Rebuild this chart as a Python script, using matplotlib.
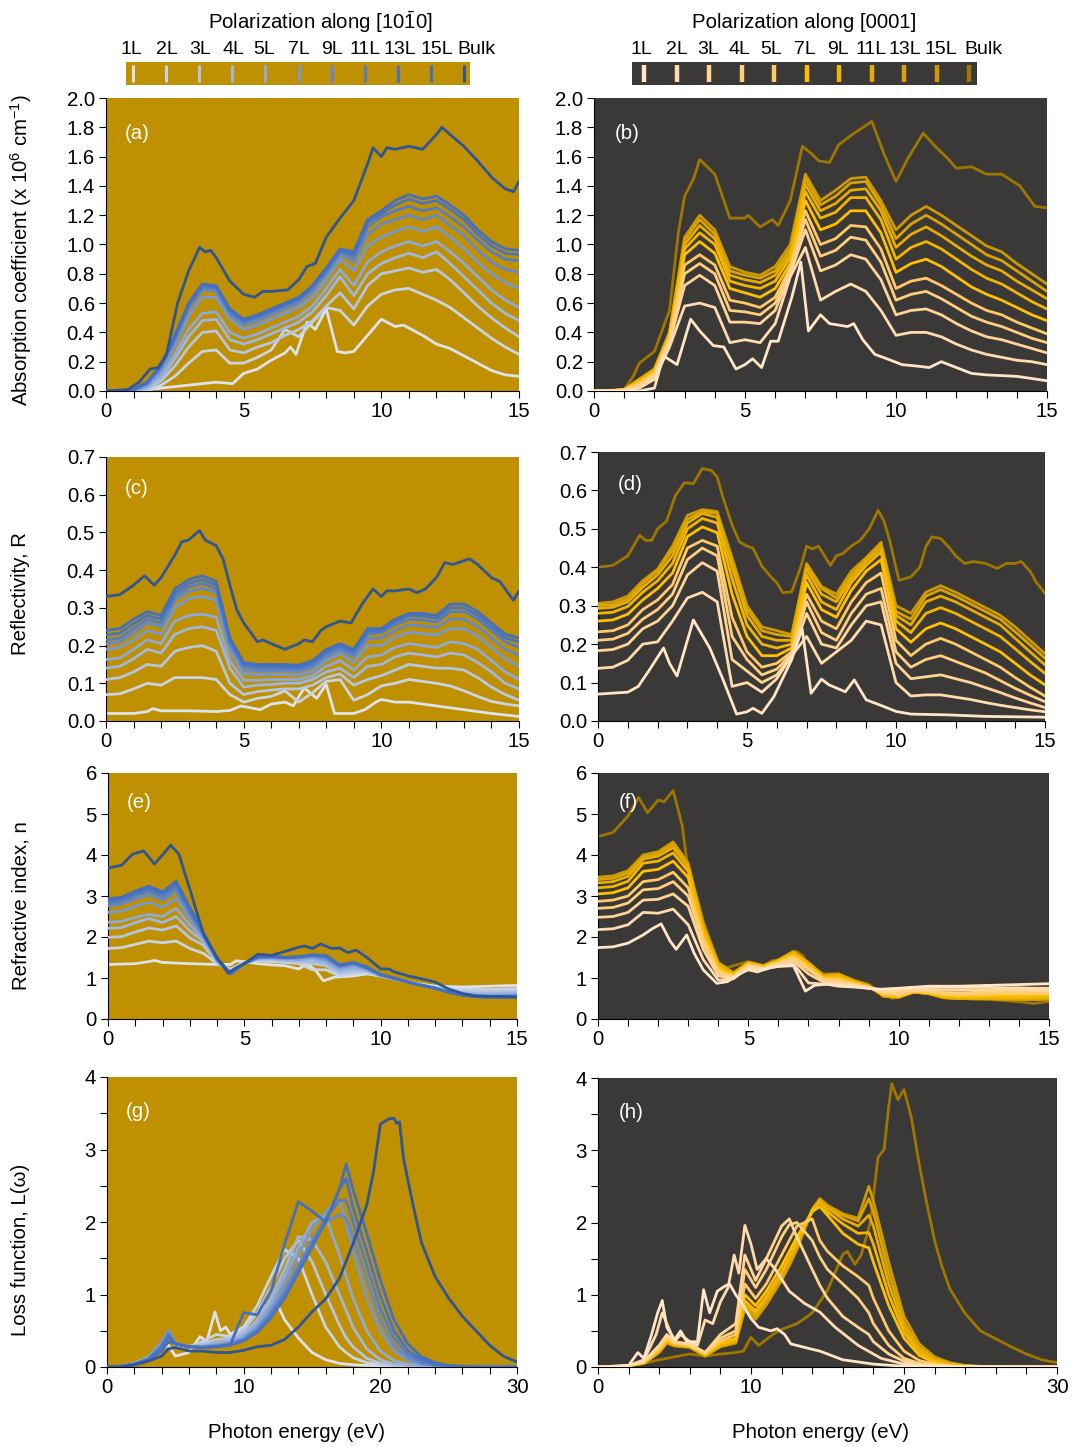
import matplotlib
matplotlib.use("Agg")
import matplotlib.pyplot as plt
from matplotlib.ticker import MultipleLocator, FormatStrFormatter

plt.rcParams['font.family'] = ['Liberation Sans', 'DejaVu Sans']
plt.rcParams['mathtext.fontset'] = 'custom'
plt.rcParams['mathtext.rm'] = 'Liberation Sans'
plt.rcParams['mathtext.it'] = 'Liberation Sans:italic'
plt.rcParams['mathtext.bf'] = 'Liberation Sans:bold'

# ---------------- categories / styling lists ----------------
LAYERS = ['1L', '2L', '3L', '4L', '5L', '7L', '9L', '11L', '13L', '15L', 'Bulk']
BLUES = ['#DDE3EE', '#C9D4E6', '#B4C6E4', '#A0B8E0', '#8EAADB', '#7699D3',
         '#6389CC', '#557DC6', '#4A74C1', '#4470BE', '#2F5597']
GOLDS = ['#FFE6C6', '#FFDCAE', '#FFD596', '#FFCF7E', '#FFC966', '#FFC000',
         '#F2B600', '#E6AC00', '#D9A300', '#CC9900', '#9E7700']
BG_LEFT = '#BF9000'
BG_RIGHT = '#3B3838'

# shared energy grid for panels (a)-(f)
EGRID = [0, 0.5, 1, 1.5, 2, 2.5, 3, 3.5, 4, 4.5, 5, 5.5, 6, 6.5, 7, 7.5, 8, 8.5, 9, 9.5,
         10, 10.5, 11, 11.5, 12, 12.5, 13, 13.5, 14, 14.5, 15]

# ---------------- (a) absorption, [10-10] ----------------
XA1 = [0, 1, 1.5, 2, 2.5, 3, 3.5, 4, 4.6, 5, 5.5, 6, 6.5, 6.7, 6.9, 7.3, 7.6, 8.0, 8.4, 8.7, 9.0,
       9.5, 10.0, 10.5, 10.8, 11.5, 12, 12.5, 13, 13.5, 14, 14.5, 15]
A1 = [0, 0, 0.01, 0.02, 0.03, 0.04, 0.05, 0.06, 0.05, 0.12, 0.15, 0.21, 0.26, 0.3, 0.25, 0.47, 0.42,
      0.56, 0.27, 0.26, 0.27, 0.38, 0.49, 0.44, 0.45, 0.38, 0.32, 0.29, 0.24, 0.19, 0.14, 0.11, 0.1]
A2 = [0, 0, 0, 0, 0.04, 0.1, 0.19, 0.27, 0.28, 0.19, 0.19, 0.23, 0.28, 0.42, 0.37, 0.47, 0.57, 0.55,
      0.45, 0.58, 0.66, 0.69, 0.7, 0.66, 0.62, 0.57, 0.5, 0.43, 0.36, 0.3, 0.25]
A3 = [0, 0, 0, 0.01, 0.07, 0.17, 0.3, 0.4, 0.41, 0.28, 0.26, 0.3, 0.33, 0.38, 0.42, 0.48, 0.58, 0.67,
      0.56, 0.72, 0.8, 0.82, 0.84, 0.81, 0.83, 0.76, 0.67, 0.58, 0.5, 0.43, 0.37]
A4 = [0, 0, 0, 0.02, 0.09, 0.22, 0.37, 0.48, 0.49, 0.35, 0.32, 0.35, 0.39, 0.43, 0.47, 0.54, 0.65, 0.78,
      0.65, 0.8, 0.87, 0.91, 0.94, 0.91, 0.95, 0.87, 0.78, 0.69, 0.6, 0.53, 0.48]
A5 = [0, 0, 0, 0.03, 0.11, 0.25, 0.42, 0.53, 0.54, 0.4, 0.36, 0.39, 0.43, 0.47, 0.51, 0.58, 0.7, 0.83,
      0.72, 0.88, 0.95, 0.99, 1.02, 0.99, 1.02, 0.95, 0.87, 0.78, 0.69, 0.62, 0.57]
A7 = [0, 0, 0, 0.04, 0.14, 0.31, 0.51, 0.64, 0.64, 0.49, 0.42, 0.45, 0.49, 0.53, 0.57, 0.64, 0.76, 0.9,
      0.82, 0.99, 1.05, 1.09, 1.12, 1.09, 1.12, 1.05, 0.97, 0.88, 0.8, 0.74, 0.7]
A9 = [0, 0, 0.01, 0.05, 0.16, 0.34, 0.56, 0.69, 0.68, 0.52, 0.45, 0.48, 0.52, 0.56, 0.6, 0.68, 0.8, 0.93,
      0.88, 1.07, 1.14, 1.17, 1.2, 1.17, 1.2, 1.13, 1.06, 0.96, 0.88, 0.83, 0.81]
A11 = [0, 0, 0.01, 0.06, 0.17, 0.36, 0.58, 0.71, 0.7, 0.54, 0.47, 0.5, 0.54, 0.58, 0.62, 0.7, 0.82, 0.95,
       0.91, 1.12, 1.19, 1.23, 1.26, 1.23, 1.25, 1.19, 1.12, 1.03, 0.95, 0.9, 0.89]
A13 = [0, 0, 0.01, 0.06, 0.17, 0.37, 0.59, 0.72, 0.71, 0.55, 0.48, 0.51, 0.55, 0.59, 0.63, 0.71, 0.83, 0.96,
       0.93, 1.15, 1.21, 1.27, 1.31, 1.28, 1.3, 1.24, 1.17, 1.07, 0.99, 0.94, 0.93]
A15 = [0, 0, 0.01, 0.06, 0.18, 0.38, 0.6, 0.73, 0.72, 0.56, 0.49, 0.52, 0.56, 0.6, 0.64, 0.72, 0.84, 0.97,
       0.95, 1.17, 1.23, 1.3, 1.34, 1.31, 1.33, 1.27, 1.2, 1.1, 1.02, 0.97, 0.96]
XAB = [0, 0.8, 1.2, 1.6, 1.9, 2.2, 2.6, 3.0, 3.4, 3.6, 3.8, 4.0, 4.5, 5.0, 5.4, 5.7, 6.0, 6.6, 7.0, 7.3,
       7.6, 8.0, 8.5, 9.0, 9.5, 9.7, 10.0, 10.2, 10.5, 11.0, 11.5, 12.0, 12.2, 12.5, 13.0, 13.5, 14.0,
       14.5, 14.8, 15.0]
AB = [0, 0.01, 0.06, 0.15, 0.16, 0.25, 0.6, 0.82, 0.98, 0.95, 0.96, 0.91, 0.75, 0.66, 0.64, 0.68, 0.68,
      0.69, 0.76, 0.85, 0.87, 1.05, 1.18, 1.3, 1.55, 1.66, 1.6, 1.66, 1.65, 1.67, 1.65, 1.75, 1.8, 1.75,
      1.67, 1.57, 1.46, 1.38, 1.36, 1.43]

# ---------------- (b) absorption, [0001] ----------------
XB1 = [0, 1.5, 2.0, 2.3, 2.75, 3.2, 3.5, 3.95, 4.3, 4.7, 5.0, 5.25, 5.55, 5.85, 6.1, 6.55, 6.85, 7.1,
       7.5, 7.8, 8.4, 8.6, 8.9, 9.3, 9.7, 10.2, 10.7, 11.1, 11.5, 12, 12.5, 13, 14, 15]
B1 = [0, 0, 0.02, 0.24, 0.18, 0.49, 0.41, 0.31, 0.3, 0.15, 0.18, 0.22, 0.16, 0.34, 0.34, 0.64, 0.88,
      0.41, 0.52, 0.46, 0.44, 0.46, 0.35, 0.25, 0.22, 0.18, 0.17, 0.16, 0.2, 0.16, 0.12, 0.11, 0.1, 0.07]
B2 = [0, 0, 0, 0.02, 0.08, 0.3, 0.58, 0.6, 0.57, 0.33, 0.35, 0.33, 0.46, 0.78, 0.98, 0.62, 0.68, 0.73,
      0.68, 0.55, 0.38, 0.4, 0.4, 0.37, 0.32, 0.28, 0.25, 0.23, 0.21, 0.2, 0.18]
B3 = [0, 0, 0, 0.03, 0.1, 0.33, 0.72, 0.79, 0.72, 0.47, 0.47, 0.46, 0.55, 0.8, 1.1, 0.82, 0.86, 0.93,
      0.9, 0.76, 0.52, 0.55, 0.56, 0.52, 0.46, 0.41, 0.37, 0.35, 0.32, 0.29, 0.26]
B4 = [0, 0, 0, 0.04, 0.11, 0.35, 0.8, 0.87, 0.8, 0.55, 0.54, 0.52, 0.6, 0.82, 1.17, 0.92, 0.96, 1.05,
      1.03, 0.88, 0.62, 0.66, 0.68, 0.63, 0.57, 0.51, 0.47, 0.44, 0.4, 0.36, 0.33]
B5 = [0, 0, 0.01, 0.05, 0.12, 0.36, 0.86, 0.93, 0.86, 0.62, 0.6, 0.57, 0.64, 0.84, 1.23, 1.0, 1.04, 1.13,
      1.12, 0.97, 0.7, 0.75, 0.77, 0.72, 0.66, 0.6, 0.55, 0.52, 0.47, 0.43, 0.39]
B7 = [0, 0, 0.01, 0.06, 0.13, 0.37, 0.93, 1.02, 0.94, 0.7, 0.67, 0.64, 0.7, 0.87, 1.3, 1.1, 1.14, 1.23,
      1.23, 1.08, 0.81, 0.87, 0.9, 0.85, 0.78, 0.71, 0.66, 0.62, 0.57, 0.52, 0.48]
B9 = [0, 0, 0.01, 0.07, 0.14, 0.38, 0.97, 1.08, 1.0, 0.75, 0.72, 0.7, 0.75, 0.91, 1.36, 1.18, 1.22, 1.32,
      1.32, 1.17, 0.9, 0.98, 1.02, 0.97, 0.9, 0.83, 0.77, 0.73, 0.67, 0.61, 0.56]
B11 = [0, 0, 0.01, 0.07, 0.14, 0.39, 1.0, 1.13, 1.04, 0.79, 0.76, 0.74, 0.79, 0.94, 1.41, 1.23, 1.28, 1.37,
       1.38, 1.23, 0.98, 1.07, 1.12, 1.06, 0.99, 0.92, 0.86, 0.82, 0.75, 0.69, 0.63]
B13 = [0, 0, 0.01, 0.08, 0.15, 0.4, 1.03, 1.17, 1.07, 0.82, 0.79, 0.77, 0.82, 0.97, 1.45, 1.27, 1.33, 1.42,
       1.43, 1.27, 1.04, 1.14, 1.2, 1.14, 1.07, 1.0, 0.93, 0.89, 0.82, 0.75, 0.68]
B15 = [0, 0, 0.01, 0.08, 0.15, 0.4, 1.05, 1.2, 1.1, 0.85, 0.81, 0.79, 0.85, 1.0, 1.48, 1.3, 1.37, 1.45,
       1.46, 1.3, 1.1, 1.2, 1.26, 1.2, 1.13, 1.06, 0.99, 0.95, 0.87, 0.8, 0.73]
XBB = [0, 1, 1.3, 1.5, 2, 2.5, 2.8, 3, 3.3, 3.5, 4, 4.5, 5, 5.1, 5.5, 5.9, 6.1, 6.5, 6.9, 7.2, 7.45, 7.8,
       8.1, 8.55, 9.2, 9.6, 10, 10.4, 10.9, 11.3, 11.7, 12, 12.5, 13, 13.5, 14.1, 14.6, 15]
BB = [0, 0.01, 0.1, 0.19, 0.27, 0.55, 1.09, 1.33, 1.45, 1.58, 1.48, 1.18, 1.18, 1.2, 1.12, 1.17, 1.13,
      1.3, 1.67, 1.62, 1.57, 1.56, 1.68, 1.75, 1.84, 1.62, 1.43, 1.59, 1.76, 1.67, 1.59, 1.52, 1.53, 1.48,
      1.48, 1.4, 1.26, 1.25]

# ---------------- (c) reflectivity, [10-10] ----------------
XC1 = [0, 1, 1.5, 1.7, 2, 3, 4, 4.5, 4.9, 5.6, 6, 6.5, 6.8, 7.2, 7.65, 8.0, 8.3, 9.0, 9.4, 9.8, 10.0,
       10.5, 11, 11.5, 12, 12.5, 13, 14, 15]
C1 = [0.02, 0.02, 0.025, 0.033, 0.027, 0.027, 0.025, 0.028, 0.04, 0.03, 0.045, 0.05, 0.04, 0.088, 0.06,
      0.097, 0.02, 0.02, 0.03, 0.05, 0.057, 0.05, 0.05, 0.045, 0.04, 0.035, 0.03, 0.02, 0.012]
C2 = [0.07, 0.072, 0.085, 0.1, 0.095, 0.115, 0.115, 0.115, 0.11, 0.07, 0.05, 0.06, 0.065, 0.08, 0.05, 0.075,
      0.105, 0.11, 0.055, 0.07, 0.093, 0.1, 0.11, 0.105, 0.1, 0.093, 0.08, 0.065, 0.052, 0.045, 0.04]
C3 = [0.11, 0.115, 0.13, 0.15, 0.145, 0.185, 0.195, 0.2, 0.185, 0.1, 0.07, 0.078, 0.082, 0.085, 0.085,
      0.095, 0.115, 0.125, 0.095, 0.11, 0.12, 0.135, 0.15, 0.145, 0.14, 0.14, 0.135, 0.115, 0.09, 0.07, 0.055]
C4 = [0.14, 0.145, 0.165, 0.19, 0.18, 0.23, 0.245, 0.25, 0.24, 0.14, 0.09, 0.095, 0.097, 0.1, 0.1, 0.11,
      0.13, 0.14, 0.115, 0.145, 0.15, 0.17, 0.18, 0.175, 0.17, 0.18, 0.175, 0.155, 0.13, 0.1, 0.085]
C5 = [0.163, 0.167, 0.19, 0.215, 0.205, 0.265, 0.28, 0.283, 0.275, 0.16, 0.108, 0.108, 0.11, 0.11, 0.11,
      0.12, 0.145, 0.16, 0.135, 0.17, 0.175, 0.195, 0.205, 0.2, 0.195, 0.21, 0.205, 0.19, 0.16, 0.13, 0.11]
C7 = [0.19, 0.195, 0.215, 0.24, 0.23, 0.3, 0.325, 0.33, 0.32, 0.19, 0.125, 0.123, 0.123, 0.123, 0.122,
      0.132, 0.16, 0.178, 0.155, 0.2, 0.2, 0.222, 0.235, 0.232, 0.228, 0.245, 0.245, 0.225, 0.195, 0.165, 0.145]
C9 = [0.205, 0.21, 0.233, 0.26, 0.25, 0.32, 0.343, 0.352, 0.34, 0.2, 0.135, 0.133, 0.133, 0.133, 0.132,
      0.143, 0.17, 0.188, 0.17, 0.218, 0.22, 0.24, 0.255, 0.252, 0.248, 0.27, 0.27, 0.25, 0.22, 0.19, 0.175]
C11 = [0.215, 0.22, 0.245, 0.27, 0.26, 0.33, 0.355, 0.365, 0.35, 0.21, 0.145, 0.14, 0.14, 0.14, 0.138,
       0.15, 0.178, 0.195, 0.178, 0.23, 0.235, 0.255, 0.27, 0.268, 0.262, 0.29, 0.29, 0.27, 0.24, 0.21, 0.195]
C13 = [0.228, 0.233, 0.258, 0.28, 0.27, 0.34, 0.365, 0.375, 0.36, 0.215, 0.15, 0.145, 0.145, 0.145, 0.143,
       0.155, 0.185, 0.2, 0.185, 0.238, 0.24, 0.263, 0.28, 0.278, 0.272, 0.3, 0.3, 0.28, 0.25, 0.22, 0.21]
C15 = [0.24, 0.245, 0.27, 0.29, 0.28, 0.35, 0.375, 0.385, 0.37, 0.22, 0.155, 0.15, 0.15, 0.15, 0.148,
       0.16, 0.19, 0.205, 0.19, 0.245, 0.245, 0.27, 0.285, 0.285, 0.28, 0.31, 0.31, 0.29, 0.26, 0.23, 0.22]
XCB = [0, 0.5, 1, 1.4, 1.75, 2, 2.5, 2.75, 3, 3.4, 3.6, 4, 4.25, 4.5, 4.75, 5, 5.5, 5.7, 6, 6.5, 7, 7.2,
       7.5, 7.8, 8, 8.5, 8.9, 9.3, 9.7, 10, 10.2, 10.5, 11, 11.3, 11.6, 12, 12.3, 12.6, 13, 13.2, 13.5, 14,
       14.3, 14.6, 14.8, 15]
CB = [0.33, 0.335, 0.36, 0.385, 0.36, 0.38, 0.44, 0.475, 0.48, 0.505, 0.48, 0.465, 0.43, 0.36, 0.295,
      0.26, 0.21, 0.215, 0.205, 0.19, 0.205, 0.215, 0.21, 0.24, 0.25, 0.265, 0.26, 0.31, 0.35, 0.33, 0.345,
      0.345, 0.35, 0.34, 0.35, 0.38, 0.42, 0.415, 0.425, 0.43, 0.415, 0.38, 0.37, 0.34, 0.32, 0.345]

# ---------------- (d) reflectivity, [0001] ----------------
XD1 = [0, 1, 1.35, 1.7, 2.2, 2.4, 2.65, 3.2, 3.75, 4.2, 4.65, 5, 5.2, 5.5, 5.9, 6.5, 6.85, 7.15, 7.5,
       7.75, 8.3, 8.6, 9, 9.45, 10, 10.5, 11.7, 13, 15]
D1 = [0.07, 0.075, 0.09, 0.13, 0.19, 0.15, 0.117, 0.263, 0.19, 0.107, 0.018, 0.024, 0.033, 0.02, 0.063,
      0.16, 0.24, 0.072, 0.109, 0.094, 0.076, 0.107, 0.055, 0.042, 0.025, 0.018, 0.016, 0.012, 0.01]
D2 = [0.137, 0.14, 0.158, 0.2, 0.206, 0.26, 0.32, 0.335, 0.31, 0.09, 0.1, 0.075, 0.11, 0.17, 0.22, 0.15,
      0.18, 0.21, 0.26, 0.25, 0.1, 0.065, 0.068, 0.068, 0.062, 0.056, 0.048, 0.041, 0.035, 0.029, 0.024]
D3 = [0.183, 0.186, 0.2, 0.24, 0.26, 0.3, 0.38, 0.412, 0.39, 0.16, 0.13, 0.1, 0.12, 0.17, 0.28, 0.2, 0.19,
      0.25, 0.3, 0.31, 0.15, 0.11, 0.115, 0.12, 0.11, 0.1, 0.087, 0.074, 0.06, 0.047, 0.035]
D4 = [0.21, 0.213, 0.228, 0.265, 0.29, 0.33, 0.42, 0.45, 0.43, 0.22, 0.16, 0.12, 0.135, 0.175, 0.31, 0.23,
      0.21, 0.28, 0.33, 0.345, 0.18, 0.14, 0.16, 0.17, 0.155, 0.14, 0.125, 0.105, 0.085, 0.067, 0.05]
D5 = [0.232, 0.235, 0.25, 0.29, 0.315, 0.355, 0.45, 0.47, 0.455, 0.27, 0.18, 0.14, 0.15, 0.18, 0.33, 0.26,
      0.24, 0.31, 0.36, 0.385, 0.21, 0.17, 0.2, 0.215, 0.2, 0.18, 0.16, 0.14, 0.113, 0.088, 0.065]
D7 = [0.26, 0.263, 0.278, 0.315, 0.345, 0.385, 0.48, 0.505, 0.49, 0.33, 0.22, 0.17, 0.17, 0.19, 0.36, 0.29,
      0.27, 0.34, 0.39, 0.42, 0.24, 0.205, 0.24, 0.255, 0.24, 0.22, 0.2, 0.18, 0.15, 0.12, 0.094]
D9 = [0.28, 0.283, 0.298, 0.335, 0.365, 0.41, 0.5, 0.527, 0.515, 0.37, 0.25, 0.2, 0.19, 0.2, 0.38, 0.31,
      0.29, 0.36, 0.405, 0.44, 0.26, 0.23, 0.28, 0.295, 0.28, 0.26, 0.24, 0.22, 0.188, 0.155, 0.124]
D11 = [0.293, 0.296, 0.31, 0.348, 0.38, 0.43, 0.515, 0.54, 0.53, 0.4, 0.275, 0.22, 0.21, 0.21, 0.395, 0.33,
       0.31, 0.37, 0.415, 0.45, 0.275, 0.25, 0.31, 0.325, 0.31, 0.29, 0.27, 0.25, 0.215, 0.18, 0.146]
D13 = [0.3, 0.303, 0.318, 0.358, 0.39, 0.445, 0.525, 0.545, 0.54, 0.415, 0.29, 0.235, 0.225, 0.22, 0.405,
       0.345, 0.32, 0.38, 0.42, 0.46, 0.285, 0.265, 0.325, 0.342, 0.325, 0.305, 0.285, 0.265, 0.232, 0.198, 0.163]
D15 = [0.306, 0.31, 0.325, 0.365, 0.395, 0.455, 0.535, 0.55, 0.545, 0.425, 0.3, 0.245, 0.235, 0.225, 0.41,
       0.35, 0.33, 0.39, 0.425, 0.465, 0.3, 0.28, 0.335, 0.352, 0.335, 0.315, 0.295, 0.275, 0.245, 0.21, 0.175]
XDB = [0, 0.5, 1, 1.4, 1.6, 1.8, 2, 2.3, 2.6, 2.9, 3.2, 3.5, 3.8, 4, 4.2, 4.5, 4.75, 5, 5.2, 5.5, 5.8, 6,
       6.2, 6.5, 6.8, 7, 7.2, 7.4, 7.6, 7.8, 8, 8.2, 8.5, 8.8, 9.1, 9.4, 9.6, 9.8, 10.1, 10.5, 10.8, 11,
       11.2, 11.5, 11.8, 12, 12.3, 12.6, 13, 13.4, 13.7, 14, 14.2, 14.5, 14.7, 15]
DB = [0.4, 0.405, 0.43, 0.483, 0.47, 0.47, 0.5, 0.52, 0.587, 0.62, 0.618, 0.657, 0.652, 0.635, 0.58, 0.51,
      0.466, 0.455, 0.45, 0.403, 0.375, 0.36, 0.334, 0.336, 0.4, 0.455, 0.448, 0.455, 0.43, 0.405, 0.43,
      0.435, 0.455, 0.47, 0.5, 0.548, 0.52, 0.466, 0.366, 0.375, 0.4, 0.453, 0.479, 0.475, 0.45, 0.43, 0.41,
      0.415, 0.41, 0.397, 0.41, 0.41, 0.415, 0.39, 0.362, 0.332]

# ---------------- (e) refractive index, [10-10] ----------------
XE1 = [0, 1, 1.5, 1.7, 2, 3, 4, 4.5, 4.7, 5, 5.5, 6, 6.5, 6.8, 7.0, 7.3, 7.6, 7.9, 8.3, 9, 9.5, 10, 11,
       12, 13, 14, 15]
E1 = [1.33, 1.35, 1.4, 1.43, 1.38, 1.35, 1.33, 1.33, 1.42, 1.4, 1.35, 1.32, 1.3, 1.25, 1.22, 1.35, 1.2,
      0.93, 1.02, 1.05, 1.1, 1.05, 0.9, 0.8, 0.78, 0.8, 0.82]
E2 = [1.72, 1.74, 1.82, 1.9, 1.86, 1.9, 1.72, 1.6, 1.35, 1.22, 1.38, 1.42, 1.4, 1.38, 1.35, 1.2, 1.2, 1.05,
      1.1, 1.12, 1.05, 0.98, 0.9, 0.84, 0.78, 0.74, 0.72, 0.72, 0.72, 0.73, 0.74]
E3 = [1.99, 2.01, 2.12, 2.22, 2.17, 2.27, 1.98, 1.8, 1.38, 1.15, 1.37, 1.45, 1.44, 1.42, 1.38, 1.35, 1.3,
      1.1, 1.15, 1.15, 1.05, 0.98, 0.9, 0.83, 0.77, 0.71, 0.67, 0.66, 0.66, 0.67, 0.68]
E4 = [2.21, 2.23, 2.35, 2.45, 2.35, 2.5, 2.15, 1.9, 1.4, 1.12, 1.36, 1.47, 1.46, 1.44, 1.42, 1.42, 1.35,
      1.15, 1.22, 1.18, 1.06, 0.98, 0.9, 0.83, 0.76, 0.69, 0.64, 0.62, 0.62, 0.63, 0.64]
E5 = [2.36, 2.38, 2.48, 2.55, 2.5, 2.7, 2.3, 1.95, 1.42, 1.1, 1.35, 1.48, 1.48, 1.46, 1.45, 1.48, 1.4, 1.2,
      1.28, 1.2, 1.06, 0.98, 0.9, 0.82, 0.75, 0.68, 0.62, 0.59, 0.59, 0.6, 0.61]
E7 = [2.6, 2.63, 2.75, 2.85, 2.72, 2.95, 2.45, 2.0, 1.44, 1.1, 1.35, 1.5, 1.5, 1.48, 1.48, 1.52, 1.45,
      1.25, 1.32, 1.22, 1.07, 0.98, 0.9, 0.82, 0.75, 0.67, 0.6, 0.57, 0.56, 0.57, 0.58]
E9 = [2.76, 2.8, 2.93, 3.03, 2.9, 3.12, 2.55, 2.05, 1.45, 1.1, 1.35, 1.5, 1.51, 1.49, 1.5, 1.54, 1.5, 1.28,
      1.35, 1.23, 1.07, 0.99, 0.9, 0.82, 0.75, 0.66, 0.59, 0.56, 0.55, 0.55, 0.56]
E11 = [2.83, 2.87, 3.01, 3.12, 2.98, 3.22, 2.62, 2.07, 1.46, 1.1, 1.35, 1.51, 1.52, 1.5, 1.51, 1.55, 1.52,
       1.3, 1.37, 1.25, 1.08, 0.99, 0.9, 0.82, 0.75, 0.65, 0.58, 0.55, 0.54, 0.54, 0.55]
E13 = [2.89, 2.93, 3.07, 3.18, 3.05, 3.3, 2.68, 2.09, 1.47, 1.1, 1.35, 1.52, 1.53, 1.5, 1.52, 1.56, 1.54,
       1.31, 1.38, 1.26, 1.08, 1.0, 0.9, 0.82, 0.75, 0.65, 0.58, 0.55, 0.53, 0.53, 0.54]
E15 = [2.93, 2.97, 3.12, 3.24, 3.1, 3.36, 2.72, 2.11, 1.48, 1.12, 1.36, 1.52, 1.53, 1.5, 1.52, 1.57, 1.55,
       1.32, 1.38, 1.27, 1.08, 1.0, 0.9, 0.82, 0.75, 0.65, 0.58, 0.54, 0.53, 0.53, 0.54]
XEB = [0, 0.5, 0.9, 1.3, 1.5, 1.7, 2.0, 2.3, 2.6, 3.0, 3.5, 4.0, 4.4, 4.7, 5.0, 5.5, 6.0, 6.5, 7.0, 7.2,
       7.5, 7.8, 8.2, 8.5, 8.8, 9.1, 9.5, 10.0, 10.3, 10.5, 11.0, 11.5, 12.0, 12.5, 13.0, 13.5, 14.0, 14.5,
       15.0]
EB = [3.68, 3.75, 4.02, 4.1, 3.95, 3.78, 4.0, 4.24, 4.02, 3.17, 2.07, 1.5, 1.12, 1.25, 1.35, 1.58, 1.55,
      1.65, 1.75, 1.78, 1.72, 1.83, 1.72, 1.73, 1.62, 1.68, 1.5, 1.22, 1.22, 1.15, 1.05, 0.98, 0.9, 0.73,
      0.62, 0.56, 0.55, 0.55, 0.53]

# ---------------- (f) refractive index, [0001] ----------------
XF1 = [0, 0.5, 1, 1.5, 1.8, 2.1, 2.4, 2.6, 2.95, 3.2, 3.5, 3.95, 4.3, 4.7, 5, 5.3, 5.7, 6, 6.5, 6.9, 7.2,
       7.6, 8, 8.5, 9, 9.3, 10, 11, 12, 13, 14, 15]
F1 = [1.74, 1.76, 1.85, 2.05, 2.2, 2.32, 1.9, 1.7, 2.05, 1.6, 1.2, 0.87, 0.91, 1.1, 1.2, 1.15, 1.25, 1.28,
      1.3, 0.68, 0.82, 0.85, 0.8, 0.78, 0.75, 0.72, 0.75, 0.8, 0.8, 0.82, 0.84, 0.86]
F2 = [2.18, 2.2, 2.3, 2.6, 2.58, 2.68, 2.3, 1.45, 0.95, 0.98, 1.25, 1.2, 1.3, 1.35, 0.88, 0.85, 0.85, 0.8,
      0.75, 0.72, 0.74, 0.76, 0.77, 0.77, 0.77, 0.77, 0.77, 0.76, 0.76, 0.75, 0.75]
F3 = [2.48, 2.5, 2.6, 2.9, 2.92, 3.05, 2.75, 1.7, 1.05, 1.0, 1.28, 1.22, 1.33, 1.42, 1.1, 0.9, 0.88, 0.82,
      0.76, 0.68, 0.68, 0.72, 0.72, 0.7, 0.7, 0.71, 0.71, 0.71, 0.71, 0.7, 0.7]
F4 = [2.7, 2.72, 2.83, 3.15, 3.18, 3.35, 3.0, 1.85, 1.12, 1.02, 1.3, 1.24, 1.36, 1.48, 1.2, 0.95, 0.92, 0.84,
      0.77, 0.65, 0.62, 0.7, 0.68, 0.64, 0.63, 0.65, 0.66, 0.66, 0.66, 0.66, 0.65]
F5 = [2.87, 2.9, 3.0, 3.35, 3.4, 3.58, 3.2, 1.95, 1.18, 1.04, 1.32, 1.25, 1.38, 1.52, 1.25, 0.98, 0.96, 0.86,
      0.78, 0.62, 0.58, 0.68, 0.66, 0.6, 0.59, 0.6, 0.61, 0.62, 0.62, 0.62, 0.62]
F7 = [3.05, 3.08, 3.2, 3.6, 3.65, 3.85, 3.45, 2.05, 1.25, 1.06, 1.34, 1.27, 1.4, 1.56, 1.3, 1.0, 1.0, 0.88,
      0.79, 0.6, 0.56, 0.67, 0.64, 0.57, 0.56, 0.56, 0.57, 0.58, 0.58, 0.58, 0.58]
F9 = [3.2, 3.23, 3.36, 3.8, 3.85, 4.05, 3.6, 2.15, 1.3, 1.08, 1.36, 1.28, 1.42, 1.6, 1.33, 1.02, 1.04, 0.9,
      0.8, 0.58, 0.55, 0.66, 0.63, 0.55, 0.53, 0.53, 0.53, 0.54, 0.54, 0.54, 0.55]
F11 = [3.32, 3.35, 3.48, 3.9, 3.97, 4.18, 3.7, 2.2, 1.33, 1.1, 1.37, 1.29, 1.43, 1.62, 1.35, 1.04, 1.07,
       0.92, 0.8, 0.57, 0.54, 0.66, 0.62, 0.53, 0.51, 0.51, 0.51, 0.51, 0.51, 0.51, 0.52]
F13 = [3.4, 3.43, 3.56, 3.95, 4.03, 4.26, 3.75, 2.25, 1.36, 1.12, 1.38, 1.3, 1.44, 1.64, 1.37, 1.05, 1.09,
       0.93, 0.81, 0.56, 0.53, 0.66, 0.62, 0.52, 0.5, 0.5, 0.5, 0.49, 0.49, 0.49, 0.5]
F15 = [3.46, 3.49, 3.62, 4.0, 4.08, 4.32, 3.8, 2.3, 1.38, 1.13, 1.38, 1.3, 1.44, 1.65, 1.38, 1.06, 1.1, 0.94,
       0.82, 0.55, 0.53, 0.66, 0.62, 0.52, 0.5, 0.49, 0.49, 0.48, 0.47, 0.47, 0.48]
XFB = [0, 0.5, 1, 1.35, 1.65, 2, 2.2, 2.5, 2.8, 3, 3.3, 3.5, 4, 4.3, 4.5, 5, 5.5, 5.8, 6.2, 6.6, 6.8, 7,
       7.5, 8, 8.5, 9, 9.5, 9.8, 10, 10.5, 11, 11.5, 12, 13, 14, 14.5, 15]
FB = [4.45, 4.55, 4.95, 5.4, 5.03, 5.34, 5.3, 5.57, 4.72, 3.6, 2.95, 2.4, 1.35, 1.25, 1.3, 1.4, 1.3, 1.42,
      1.45, 1.65, 1.55, 1.3, 1.1, 1.1, 0.95, 0.85, 0.6, 0.5, 0.55, 0.65, 0.62, 0.52, 0.5, 0.48, 0.42, 0.38,
      0.43]

# ---------------- (g) loss function, [10-10] ----------------
EG = [0, 1, 2, 3, 4, 4.5, 5, 6, 7, 8, 9, 10, 11, 12, 13, 14, 15, 16, 17, 17.5, 18, 19, 20, 21, 22, 23, 24,
      25, 26, 27, 28, 29, 30]
XG1 = [0, 1, 2, 3, 4, 4.5, 5, 6, 6.8, 7.3, 7.9, 8.3, 8.7, 9, 10, 11, 12, 12.5, 13, 14, 15, 16, 17, 18, 20,
       22, 25, 30]
G1 = [0, 0.01, 0.05, 0.12, 0.25, 0.3, 0.15, 0.2, 0.42, 0.35, 0.76, 0.5, 0.55, 0.45, 0.55, 0.75, 0.9, 0.85,
      0.65, 0.4, 0.2, 0.1, 0.05, 0.03, 0.01, 0.005, 0, 0]
G2 = [0, 0.01, 0.05, 0.13, 0.3, 0.45, 0.3, 0.28, 0.35, 0.45, 0.42, 0.55, 0.85, 1.25, 1.62, 1.5, 1.0, 0.55,
      0.28, 0.2, 0.13, 0.06, 0.03, 0.01, 0, 0, 0, 0, 0, 0, 0, 0, 0]
G3 = [0, 0.01, 0.05, 0.13, 0.32, 0.48, 0.32, 0.28, 0.32, 0.38, 0.4, 0.5, 0.75, 1.1, 1.5, 1.75, 1.45, 1.0,
      0.58, 0.4, 0.28, 0.12, 0.05, 0.02, 0.01, 0, 0, 0, 0, 0, 0, 0, 0]
G4 = [0, 0.01, 0.05, 0.13, 0.33, 0.5, 0.32, 0.28, 0.3, 0.33, 0.37, 0.45, 0.65, 0.95, 1.35, 1.8, 1.75, 1.45,
      1.0, 0.78, 0.55, 0.25, 0.1, 0.04, 0.02, 0.01, 0, 0, 0, 0, 0, 0, 0]
G5 = [0, 0.01, 0.05, 0.13, 0.34, 0.5, 0.32, 0.28, 0.29, 0.31, 0.35, 0.42, 0.6, 0.88, 1.25, 1.65, 2.0, 2.08,
      1.55, 1.25, 0.95, 0.5, 0.22, 0.09, 0.04, 0.015, 0.005, 0, 0, 0, 0, 0, 0]
G7 = [0, 0.01, 0.05, 0.12, 0.33, 0.5, 0.32, 0.28, 0.28, 0.3, 0.33, 0.4, 0.55, 0.8, 1.15, 1.55, 1.9, 2.15,
      2.3, 2.0, 1.6, 0.95, 0.5, 0.22, 0.1, 0.04, 0.02, 0.01, 0, 0, 0, 0, 0]
G9 = [0, 0.01, 0.04, 0.11, 0.3, 0.48, 0.32, 0.28, 0.27, 0.29, 0.32, 0.38, 0.52, 0.75, 1.05, 1.4, 1.75, 2.0,
      2.1, 2.05, 1.8, 1.2, 0.65, 0.3, 0.13, 0.05, 0.02, 0.01, 0, 0, 0, 0, 0]
G11 = [0, 0.01, 0.04, 0.1, 0.28, 0.45, 0.32, 0.28, 0.27, 0.28, 0.31, 0.37, 0.5, 0.72, 1.0, 1.35, 1.7, 2.05,
       2.3, 2.3, 2.0, 1.4, 0.8, 0.4, 0.18, 0.07, 0.03, 0.01, 0, 0, 0, 0, 0]
G13 = [0, 0.01, 0.04, 0.1, 0.26, 0.42, 0.32, 0.28, 0.27, 0.28, 0.3, 0.36, 0.48, 0.68, 0.95, 1.3, 1.65, 2.0,
       2.45, 2.6, 2.2, 1.6, 0.98, 0.5, 0.23, 0.1, 0.04, 0.015, 0.005, 0, 0, 0, 0]
G15 = [0, 0.01, 0.03, 0.09, 0.22, 0.35, 0.32, 0.28, 0.27, 0.28, 0.3, 0.75, 0.72, 1.05, 1.7, 2.28, 2.15, 2.0,
       2.45, 2.8, 2.45, 1.85, 1.2, 0.65, 0.32, 0.14, 0.06, 0.02, 0.01, 0, 0, 0, 0]
XGB = [0, 1, 2, 3, 4, 4.5, 5, 6, 7, 8, 9, 10, 11, 12, 13, 14, 15, 16, 17, 18, 19, 19.5, 20, 20.6, 21, 21.2,
       21.4, 21.7, 22.4, 23, 24, 25, 26, 27, 28, 29, 30]
GB = [0, 0, 0.03, 0.08, 0.15, 0.25, 0.27, 0.22, 0.22, 0.2, 0.2, 0.23, 0.28, 0.3, 0.38, 0.55, 0.76, 0.94,
      1.22, 1.7, 2.23, 2.69, 3.35, 3.42, 3.43, 3.36, 3.38, 2.87, 2.23, 1.72, 1.25, 0.95, 0.7, 0.5, 0.3, 0.15,
      0.07]

# ---------------- (h) loss function, [0001] ----------------
EH = [0, 1, 2, 3, 4, 4.5, 5, 6, 7, 8, 9, 9.6, 10.3, 11, 12, 12.5, 13, 14, 14.5, 15, 16, 17, 17.7, 18, 19,
      20, 21, 22, 23, 24, 25, 26, 27, 28, 29, 30]
XH1 = [0, 2, 2.6, 3, 3.5, 3.9, 4.2, 4.5, 5, 5.4, 5.8, 6.5, 6.9, 7.3, 7.8, 8.3, 8.6, 9, 9.5, 10, 10.5, 11.3,
       11.7, 12.2, 12.6, 13.9, 14.5, 16, 18, 20, 30]
H1 = [0, 0.02, 0.2, 0.12, 0.45, 0.75, 0.92, 0.55, 0.38, 0.5, 0.35, 0.35, 1.07, 0.75, 1.05, 1.12, 1.15, 1.0,
      0.85, 0.67, 0.55, 0.5, 0.53, 0.45, 0.32, 0.25, 0.22, 0.1, 0.04, 0.01, 0]
XH2 = [0, 2, 3, 3.8, 4.2, 4.5, 5, 5.4, 6, 6.5, 7, 7.5, 8, 8.5, 8.9, 9.2, 9.6, 10, 10.4, 11, 11.6, 12.5,
       13.5, 14.5, 15.5, 17, 18.5, 20, 22, 30]
H2 = [0, 0.02, 0.1, 0.45, 0.75, 0.6, 0.35, 0.45, 0.35, 0.3, 0.65, 0.6, 0.9, 1.1, 1.55, 1.3, 1.96, 1.7, 1.35,
      1.5, 1.35, 1.05, 0.88, 0.76, 0.55, 0.3, 0.12, 0.04, 0.01, 0]
H3 = [0, 0, 0.02, 0.08, 0.3, 0.45, 0.35, 0.32, 0.2, 0.45, 0.6, 1.55, 1.2, 1.5, 1.95, 2.05, 1.8, 1.35, 1.13,
      0.95, 0.7, 0.55, 0.45, 0.35, 0.18, 0.08, 0.04, 0.02, 0.01, 0, 0, 0, 0, 0, 0, 0]
H4 = [0, 0, 0.02, 0.07, 0.28, 0.42, 0.34, 0.31, 0.2, 0.4, 0.5, 1.35, 1.1, 1.35, 1.8, 1.97, 2.0, 1.75, 1.52,
      1.35, 1.15, 0.95, 0.75, 0.6, 0.3, 0.12, 0.05, 0.02, 0.01, 0, 0, 0, 0, 0, 0, 0]
H5 = [0, 0, 0.02, 0.07, 0.26, 0.4, 0.33, 0.3, 0.19, 0.36, 0.45, 1.15, 0.95, 1.15, 1.55, 1.75, 1.95, 2.05,
      1.75, 1.6, 1.4, 1.25, 1.13, 0.95, 0.5, 0.22, 0.09, 0.04, 0.015, 0.005, 0, 0, 0, 0, 0, 0]
H7 = [0, 0, 0.02, 0.06, 0.24, 0.38, 0.32, 0.29, 0.18, 0.33, 0.4, 1.0, 0.85, 1.05, 1.4, 1.6, 1.8, 2.15, 2.22,
      2.1, 1.85, 1.7, 1.65, 1.45, 0.85, 0.4, 0.16, 0.06, 0.02, 0.01, 0, 0, 0, 0, 0, 0]
H9 = [0, 0, 0.02, 0.06, 0.23, 0.36, 0.31, 0.28, 0.17, 0.31, 0.37, 0.92, 0.78, 0.98, 1.32, 1.52, 1.75, 2.15,
      2.28, 2.15, 1.98, 1.85, 1.86, 1.7, 1.0, 0.48, 0.2, 0.08, 0.03, 0.01, 0, 0, 0, 0, 0, 0]
H11 = [0, 0, 0.02, 0.06, 0.22, 0.35, 0.3, 0.28, 0.17, 0.3, 0.35, 0.88, 0.74, 0.94, 1.28, 1.48, 1.7, 2.17,
       2.3, 2.2, 2.05, 1.95, 2.1, 1.95, 1.15, 0.55, 0.24, 0.1, 0.04, 0.015, 0.005, 0, 0, 0, 0, 0]
H13 = [0, 0, 0.02, 0.05, 0.21, 0.34, 0.3, 0.28, 0.16, 0.29, 0.34, 0.85, 0.7, 0.9, 1.24, 1.44, 1.66, 2.18,
       2.32, 2.22, 2.1, 2.02, 2.33, 2.15, 1.3, 0.62, 0.27, 0.12, 0.05, 0.02, 0.005, 0, 0, 0, 0, 0]
H15 = [0, 0, 0.02, 0.05, 0.2, 0.33, 0.29, 0.27, 0.15, 0.28, 0.33, 0.8, 0.66, 0.86, 1.2, 1.4, 1.62, 2.18,
       2.33, 2.24, 2.12, 2.06, 2.5, 2.3, 1.45, 0.7, 0.32, 0.14, 0.06, 0.02, 0.01, 0, 0, 0, 0, 0]
XHB = [0, 2, 3, 4, 5, 6, 7, 8, 9, 9.5, 10, 10.5, 11, 11.5, 12, 13, 13.5, 14, 15, 16, 16.3, 16.8, 17.2,
       17.8, 18.3, 18.7, 19, 19.2, 19.6, 20, 20.3, 20.5, 21, 21.5, 22, 22.5, 23, 24, 25, 26, 27, 28, 29, 30]
HB = [0, 0.01, 0.05, 0.1, 0.14, 0.18, 0.15, 0.18, 0.2, 0.22, 0.41, 0.3, 0.38, 0.46, 0.52, 0.6, 0.67, 0.75,
      1.06, 1.56, 1.6, 1.42, 1.55, 2.0, 2.9, 3.01, 3.6, 3.92, 3.7, 3.84, 3.6, 3.43, 2.8, 2.25, 1.75, 1.38,
      1.08, 0.74, 0.5, 0.39, 0.28, 0.18, 0.1, 0.06]

# ---------------- figure ----------------
W, H = 1072, 1447
fig = plt.figure(figsize=(W / 100, H / 100), dpi=100)
fig.patch.set_facecolor('white')
FS = 14.7
FS_LEG = 14


def px_axes(l, t, r, b):
    return fig.add_axes([l / W, 1 - b / H, (r - l) / W, (b - t) / H])


def series_list(x1, y1, grid, mids, xb, yb):
    out = [(x1, y1)]
    for m in mids:
        out.append((grid, m))
    out.append((xb, yb))
    return out


panels = [
    dict(rect=(106, 98, 519, 391), left=True, tag='(a)', ylim=(0, 2.0), ymaj=0.2, ymin=None, yfmt='%.1f',
         xlim=(0, 15), xmaj=5, xmin=1,
         data=series_list(XA1, A1, EGRID, [A2, A3, A4, A5, A7, A9, A11, A13, A15], XAB, AB)),
    dict(rect=(594, 98, 1047, 391), left=False, tag='(b)', ylim=(0, 2.0), ymaj=0.2, ymin=None, yfmt='%.1f',
         xlim=(0, 15), xmaj=5, xmin=1,
         data=series_list(XB1, B1, EGRID, [B2, B3, B4, B5, B7, B9, B11, B13, B15], XBB, BB)),
    dict(rect=(106, 457, 519, 721), left=True, tag='(c)', ylim=(0, 0.7), ymaj=0.1, ymin=None, yfmt='%.1f',
         xlim=(0, 15), xmaj=5, xmin=1,
         data=series_list(XC1, C1, EGRID, [C2, C3, C4, C5, C7, C9, C11, C13, C15], XCB, CB)),
    dict(rect=(598, 452, 1045, 721), left=False, tag='(d)', ylim=(0, 0.7), ymaj=0.1, ymin=None, yfmt='%.1f',
         xlim=(0, 15), xmaj=5, xmin=1,
         data=series_list(XD1, D1, EGRID, [D2, D3, D4, D5, D7, D9, D11, D13, D15], XDB, DB)),
    dict(rect=(108, 773, 517, 1019), left=True, tag='(e)', ylim=(0, 6), ymaj=1, ymin=None, yfmt='%d',
         xlim=(0, 15), xmaj=5, xmin=1,
         data=series_list(XE1, E1, EGRID, [E2, E3, E4, E5, E7, E9, E11, E13, E15], XEB, EB)),
    dict(rect=(598, 773, 1049, 1019), left=False, tag='(f)', ylim=(0, 6), ymaj=1, ymin=None, yfmt='%d',
         xlim=(0, 15), xmaj=5, xmin=1,
         data=series_list(XF1, F1, EGRID, [F2, F3, F4, F5, F7, F9, F11, F13, F15], XFB, FB)),
    dict(rect=(107, 1077, 517, 1367), left=True, tag='(g)', ylim=(0, 4), ymaj=1, ymin=0.5, yfmt='%d',
         xlim=(0, 30), xmaj=10, xmin=2,
         data=series_list(XG1, G1, EG, [G2, G3, G4, G5, G7, G9, G11, G13, G15], XGB, GB)),
    dict(rect=(598, 1078, 1057, 1367), left=False, tag='(h)', ylim=(0, 4), ymaj=1, ymin=0.5, yfmt='%d',
         xlim=(0, 30), xmaj=10, xmin=2,
         data=[(XH1, H1), (XH2, H2)] + [(EH, m) for m in [H3, H4, H5, H7, H9, H11, H13, H15]] + [(XHB, HB)]),
]

for p in panels:
    ax = px_axes(*p['rect'])
    ax.set_facecolor(BG_LEFT if p['left'] else BG_RIGHT)
    cols = BLUES if p['left'] else GOLDS
    order = list(range(11)) if p['left'] else list(range(10, -1, -1))
    for z, i in enumerate(order):
        xs, ys = p['data'][i]
        n = min(len(xs), len(ys))
        ax.plot(xs[:n], ys[:n], color=cols[i], lw=2.0, solid_joinstyle='round',
                solid_capstyle='round', zorder=2 + z, clip_on=True)
    ax.set_xlim(*p['xlim'])
    ax.set_ylim(*p['ylim'])
    ax.xaxis.set_major_locator(MultipleLocator(p['xmaj']))
    ax.xaxis.set_minor_locator(MultipleLocator(p['xmin']))
    ax.yaxis.set_major_locator(MultipleLocator(p['ymaj']))
    if p['ymin']:
        ax.yaxis.set_minor_locator(MultipleLocator(p['ymin']))
    ax.yaxis.set_major_formatter(FormatStrFormatter(p['yfmt']))
    for s in ('top', 'right'):
        ax.spines[s].set_visible(False)
    for s in ('left', 'bottom'):
        ax.spines[s].set_linewidth(0.8)
        ax.spines[s].set_color('black')
    ax.tick_params(which='both', direction='out', length=5, width=0.8, colors='black',
                   labelsize=FS, pad=3)
    ax.text(0.045, 0.88, p['tag'], transform=ax.transAxes, color='white', fontsize=FS,
            ha='left', va='center', zorder=30)

# y-axis labels
ylabels = [("Absorption coefficient (x 10$^{6}$ cm$^{-1}$)", 250),
           ("Reflectivity, R", 594),
           ("Refractive index, n", 906),
           ("Loss function, L(\u03c9)", 1250)]
for txt, yc in ylabels:
    fig.text(21 / W, 1 - yc / H, txt, rotation=90, ha='center', va='center', fontsize=FS)

# x-axis labels
fig.text(297 / W, 1 - 1433 / H, "Photon energy (eV)", ha='center', va='center', fontsize=FS)
fig.text(820 / W, 1 - 1433 / H, "Photon energy (eV)", ha='center', va='center', fontsize=FS)

# titles
fig.text(320 / W, 1 - 22 / H, r"Polarization along [10$\bar{1}$0]", ha='center', va='center', fontsize=FS)
fig.text(804 / W, 1 - 22 / H, "Polarization along [0001]", ha='center', va='center', fontsize=FS)


# legend bars
def legend_bar(l, r, first, step, label_x, bg, cols, lw):
    ax = px_axes(l, 62, r, 85)
    ax.set_facecolor(bg)
    ax.set_xlim(l, r)
    ax.set_ylim(0, 1)
    for i in range(11):
        xm = first + step * i
        ax.plot([xm, xm], [0.12, 0.88], color=cols[i], lw=lw, solid_capstyle='butt')
    for s in ax.spines.values():
        s.set_visible(False)
    ax.set_xticks([])
    ax.set_yticks([])
    for i, lab in enumerate(LAYERS):
        fig.text(label_x[i] / W, 1 - 50 / H, lab, ha='center', va='center', fontsize=FS_LEG)


legend_bar(126, 470, 133, 33.1, [131, 167, 200, 233, 264, 299, 332, 365, 400, 437, 476],
           BG_LEFT, BLUES, 2.2)
legend_bar(632, 977, 644, 32.5, [641, 677, 708, 739, 771, 805, 838, 871, 905, 941, 983],
           BG_RIGHT, GOLDS, 3.2)

fig.savefig("out.png", dpi=100, facecolor='white')
